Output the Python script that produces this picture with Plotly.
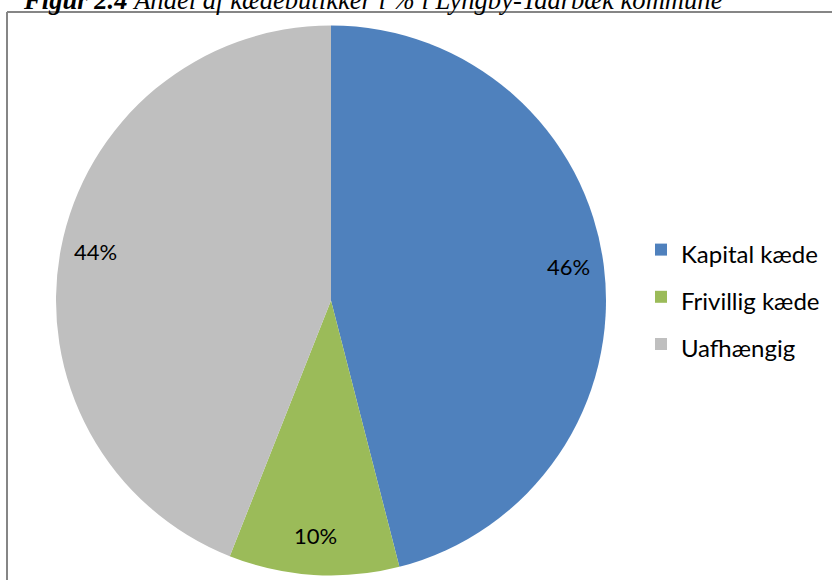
import math
import plotly.graph_objects as go

categories = ["Kapital kæde", "Frivillig kæde", "Uafhængig"]
values = [46, 10, 44]
colors = ["#4F81BD", "#9BBB59", "#BFBFBF"]
title_bold = "Figur 2.4"
title_rest = "Andel af kædebutikker i % i Lyngby-Taarbæk kommune"

W, H = 832, 580
cx, cy, R = 331, 300.5, 275

legend_names = [f"<span style='font-size:24px'>{c}</span>" for c in categories]

fig = go.Figure(go.Pie(
    labels=legend_names,
    values=values,
    marker=dict(colors=colors, line=dict(width=0)),
    sort=False,
    direction="clockwise",
    rotation=0,
    textinfo="none",
    hovertext=categories,
    hoverinfo="text+percent",
    domain=dict(x=[(cx - R) / W, (cx + R) / W], y=[1 - (cy + R) / H, 1 - (cy - R) / H]),
))

# percentage labels placed along each slice's mid-angle
total = sum(values)
annotations = []
cum = 0
for v in values:
    mid = (cum + v / 2) / total * 2 * math.pi
    cum += v
    rr = 0.87 * R
    px = cx + rr * math.sin(mid)
    py = cy - rr * math.cos(mid) - 4
    annotations.append(dict(
        x=px / W, y=1 - py / H, xref="paper", yref="paper",
        xanchor="center", yanchor="middle",
        text=f"{round(v / total * 100)}%", showarrow=False,
        font=dict(family="Lato", size=22, color="#000000"),
    ))

annotations.append(dict(
    x=21 / W, y=1 - 17 / H, xref="paper", yref="paper", xanchor="left", yanchor="bottom",
    text=f"<b><i>{title_bold}</i></b> <i>{title_rest}</i>", showarrow=False,
    font=dict(family="Liberation Serif", size=26.6, color="#000000"),
))

fig.update_layout(
    width=W, height=H,
    margin=dict(l=0, r=0, t=0, b=0),
    paper_bgcolor="white",
    plot_bgcolor="white",
    showlegend=True,
    legend=dict(
        x=641 / W, y=1 - 297 / H, xanchor="left", yanchor="middle",
        font=dict(family="Lato", size=34, color="#000000"),
        bgcolor="rgba(0,0,0,0)",
    ),
    annotations=annotations,
    shapes=[
        dict(type="line", xref="paper", yref="paper", x0=7 / W, x1=1.02, y0=1 - 12 / H, y1=1 - 12 / H,
             line=dict(color="#868686", width=2)),
        dict(type="line", xref="paper", yref="paper", x0=7 / W, x1=7 / W, y0=1 - 12 / H, y1=-0.02,
             line=dict(color="#868686", width=2)),
    ],
)

fig.write_html("out.html")
